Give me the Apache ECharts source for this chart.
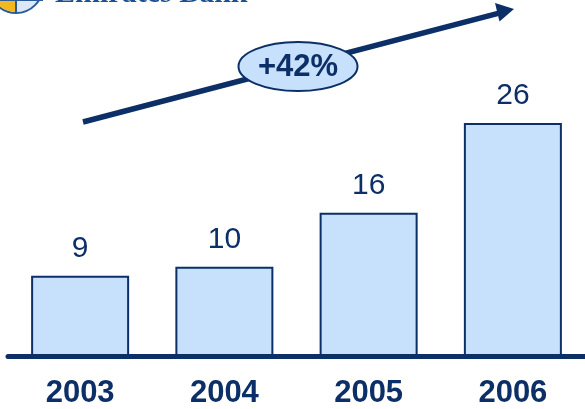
<!DOCTYPE html>
<html>
<head>
<meta charset="utf-8">
<script src="https://cdn.jsdelivr.net/npm/echarts@6/dist/echarts.min.js"></script>
<style>
  html, body { margin: 0; padding: 0; background: #ffffff; }
  #chart { width: 585px; height: 409px; }
</style>
</head>
<body>
<div id="chart"></div>
<script>
// Yearly figures shown as bars
const years = ['2003', '2004', '2005', '2006'];
const values = [9, 10, 16, 26];
const growthLabel = '+42%';
const bankName = 'Emirates Bank';

const NAVY = '#0b2f66';
const FILL = '#c7e0fb';

const chart = echarts.init(document.getElementById('chart'));

chart.setOption({
  animation: false,
  backgroundColor: '#ffffff',
  grid: { left: 8, right: 0, top: 0, bottom: 52.5, containLabel: false },
  xAxis: {
    type: 'category',
    data: years,
    z: 5,
    axisLine: { show: true, lineStyle: { color: NAVY, width: 5 } },
    axisTick: { show: false },
    axisLabel: {
      color: NAVY,
      fontFamily: 'Liberation Sans, Arial, sans-serif',
      fontWeight: 'bold',
      fontSize: 31,
      margin: 21
    }
  },
  yAxis: {
    type: 'value',
    min: 0,
    max: 39.7,
    show: false,
    splitLine: { show: false }
  },
  series: [{
    type: 'bar',
    data: values,
    barWidth: 98,
    itemStyle: { color: FILL, borderColor: NAVY, borderWidth: 2 },
    label: {
      show: true,
      position: 'top',
      distance: 12,
      color: NAVY,
      fontFamily: 'Liberation Sans, Arial, sans-serif',
      fontSize: 30
    }
  }],
  graphic: [
    // Growth trend arrow
    {
      type: 'line',
      shape: { x1: 83, y1: 122, x2: 500, y2: 12.8 },
      style: { stroke: NAVY, lineWidth: 5.5 },
      z: 10
    },
    {
      type: 'polygon',
      shape: { points: [[514, 9], [495, 3], [499.5, 21.5]] },
      style: { fill: NAVY },
      z: 10
    },
    // Growth badge
    {
      type: 'ellipse',
      shape: { cx: 298, cy: 66.5, rx: 59.5, ry: 24.5 },
      style: { fill: FILL, stroke: NAVY, lineWidth: 2 },
      z: 11
    },
    {
      type: 'text',
      x: 298, y: 67,
      style: {
        text: growthLabel,
        fill: NAVY,
        font: 'bold 31px "Liberation Sans", Arial, sans-serif',
        textAlign: 'center',
        textVerticalAlign: 'middle'
      },
      z: 12
    },
    // Bank logo (clipped at the top edge)
    {
      type: 'circle',
      shape: { cx: 16, cy: -14, r: 27 },
      style: { fill: '#dbe8f6', stroke: '#2a5c9c', lineWidth: 2 },
      z: 10
    },
    {
      type: 'sector',
      shape: { cx: 16, cy: -14, r: 26, r0: 0, startAngle: Math.PI * 0.5, endAngle: Math.PI * 1.05 },
      style: { fill: '#f2b81e' },
      z: 10
    },
    {
      type: 'line',
      shape: { x1: 16, y1: -14, x2: 16, y2: 13 },
      style: { stroke: '#2a5c9c', lineWidth: 2 },
      z: 10
    },
    {
      type: 'line',
      shape: { x1: -11, y1: 0, x2: 43, y2: 0 },
      style: { stroke: '#2a5c9c', lineWidth: 2 },
      z: 10
    },
    {
      type: 'text',
      x: 55, y: 9,
      style: {
        text: bankName,
        fill: '#1c5094',
        font: 'bold 30px "Liberation Serif", "Times New Roman", serif',
        textAlign: 'left',
        textVerticalAlign: 'bottom'
      },
      z: 10
    }
  ]
});
</script>
</body>
</html>
